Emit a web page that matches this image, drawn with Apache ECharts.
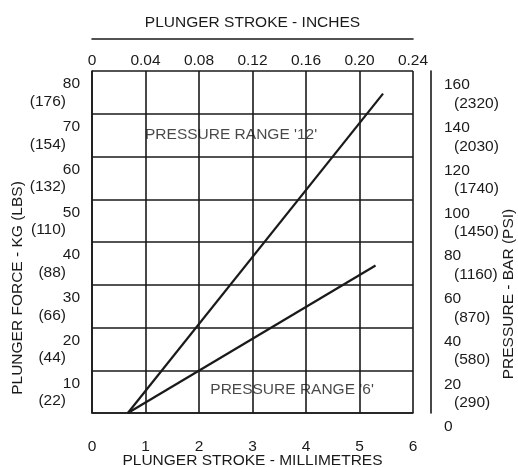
<!DOCTYPE html>
<html><head><meta charset="utf-8">
<script src="https://cdn.jsdelivr.net/npm/echarts@6/dist/echarts.min.js"></script>
<style>html,body{margin:0;padding:0;background:#fff}#c{width:518px;height:467px}</style>
</head><body><div id="c"></div>
<script>
var mmTicks = [0, 1, 2, 3, 4, 5, 6];
var inchTicks = [0, 0.04, 0.08, 0.12, 0.16, 0.20, 0.24];
var kgTicks = [0, 10, 20, 30, 40, 50, 60, 70, 80];
var lbsLabels = ['', '(22)', '(44)', '(66)', '(88)', '(110)', '(132)', '(154)', '(176)'];
var barTicks = [0, 20, 40, 60, 80, 100, 120, 140, 160];
var psiLabels = ['', '(290)', '(580)', '(870)', '(1160)', '(1450)', '(1740)', '(2030)', '(2320)'];
var range12 = [[0.67, 0], [5.44, 74.7]];
var range6 = [[0.67, 0], [5.30, 34.5]];
var rangeLabels = [
  {name: "PRESSURE RANGE '12'", value: [2.6, 65.2]},
  {name: "PRESSURE RANGE '6'", value: [3.74, 5.4]}
];

var FONT = 'Liberation Sans, Arial, sans-serif';
var FS = 15.5;
var INK = '#1a1a1a';
var chart = echarts.init(document.getElementById('c'), null, {renderer: 'canvas'});
var lineStyle = {color: INK, width: 1.6};
chart.setOption({
  animation: false,
  backgroundColor: '#fff',
  textStyle: {fontFamily: FONT, color: INK},
  grid: {left: 92, right: 105, top: 71, bottom: 54, containLabel: false, outerBoundsMode: 'none'},
  xAxis: [
    {
      type: 'value', position: 'bottom', min: 0, max: 6, interval: 1,
      name: 'PLUNGER STROKE - MILLIMETRES', nameLocation: 'middle', nameGap: 40, nameMoveOverlap: false,
      nameTextStyle: {fontSize: FS, color: INK, fontFamily: FONT},
      axisLine: {show: true, onZero: false, lineStyle: lineStyle},
      axisTick: {show: false},
      splitLine: {show: true, lineStyle: lineStyle},
      axisLabel: {margin: 26, fontSize: FS, color: INK, fontFamily: FONT,
        formatter: function (v) { return mmTicks.indexOf(v) >= 0 ? String(v) : ''; }}
    },
    {
      type: 'value', position: 'top', min: 0, max: 0.24, interval: 0.04, offset: 32,
      name: 'PLUNGER STROKE - INCHES', nameLocation: 'middle', nameGap: 8, nameMoveOverlap: false,
      nameTextStyle: {fontSize: FS, color: INK, fontFamily: FONT},
      axisLine: {show: true, onZero: false, lineStyle: lineStyle},
      axisTick: {show: false},
      splitLine: {show: false},
      axisLabel: {inside: true, margin: 14, fontSize: FS, color: INK, fontFamily: FONT,
        formatter: function (v) {
          var i = Math.round(v / 0.04);
          return inchTicks[i] === 0 ? '0' : inchTicks[i].toFixed(2);
        }}
    }
  ],
  yAxis: [
    {
      type: 'value', position: 'left', min: 0, max: 80, interval: 10,
      axisLine: {show: true, onZero: false, lineStyle: lineStyle},
      axisTick: {show: false},
      splitLine: {show: true, lineStyle: lineStyle},
      axisLabel: {
        margin: 12, fontSize: FS, color: INK, fontFamily: FONT, verticalAlign: 'top', align: 'right',
        formatter: function (v) {
          var i = kgTicks.indexOf(v);
          if (i <= 0) return '';
          return '{a|' + v + '}\n{b|' + lbsLabels[i] + '}';
        },
        rich: {
          a: {fontSize: FS, lineHeight: 19, color: INK, fontFamily: FONT, align: 'right', padding: [7, 0, 0, 0]},
          b: {fontSize: FS, lineHeight: 23, color: INK, fontFamily: FONT, align: 'right', padding: [0, 14, 0, 0]}
        }
      }
    },
    {
      type: 'value', position: 'right', min: 0, max: 160, interval: 20, offset: 18,
      axisLine: {show: true, onZero: false, lineStyle: lineStyle},
      axisTick: {show: false},
      splitLine: {show: false},
      axisLabel: {
        margin: 13, fontSize: FS, color: INK, fontFamily: FONT, verticalAlign: 'top', align: 'left',
        formatter: function (v) {
          var i = barTicks.indexOf(v);
          if (i < 0) return '';
          if (i === 0) return '{a|0}';
          return '{a|' + v + '}\n{b|' + psiLabels[i] + '}';
        },
        rich: {
          a: {fontSize: FS, lineHeight: 22, color: INK, fontFamily: FONT, align: 'left', padding: [6, 0, 0, 0]},
          b: {fontSize: FS, lineHeight: 21, color: INK, fontFamily: FONT, align: 'left', padding: [0, 0, 0, 10]}
        }
      }
    }
  ],
  graphic: [
    {type: 'text', x: 17.5, y: 288, rotation: Math.PI / 2,
      style: {text: 'PLUNGER FORCE - KG (LBS)', fill: INK, font: FS + 'px ' + FONT, align: 'center', verticalAlign: 'middle'}},
    {type: 'text', x: 509, y: 294, rotation: Math.PI / 2,
      style: {text: 'PRESSURE - BAR (PSI)', fill: INK, font: FS + 'px ' + FONT, align: 'center', verticalAlign: 'middle'}}
  ],
  series: [
    {type: 'line', xAxisIndex: 0, yAxisIndex: 0, data: range12, symbol: 'none',
      lineStyle: {color: INK, width: 2.2}, silent: true},
    {type: 'line', xAxisIndex: 0, yAxisIndex: 0, data: range6, symbol: 'none',
      lineStyle: {color: INK, width: 2.2}, silent: true},
    {type: 'scatter', xAxisIndex: 0, yAxisIndex: 0, data: rangeLabels, symbolSize: 0, silent: true,
      label: {show: true, position: 'inside', formatter: '{b}', fontSize: FS, color: INK, fontFamily: FONT}}
  ]
});
</script></body></html>
